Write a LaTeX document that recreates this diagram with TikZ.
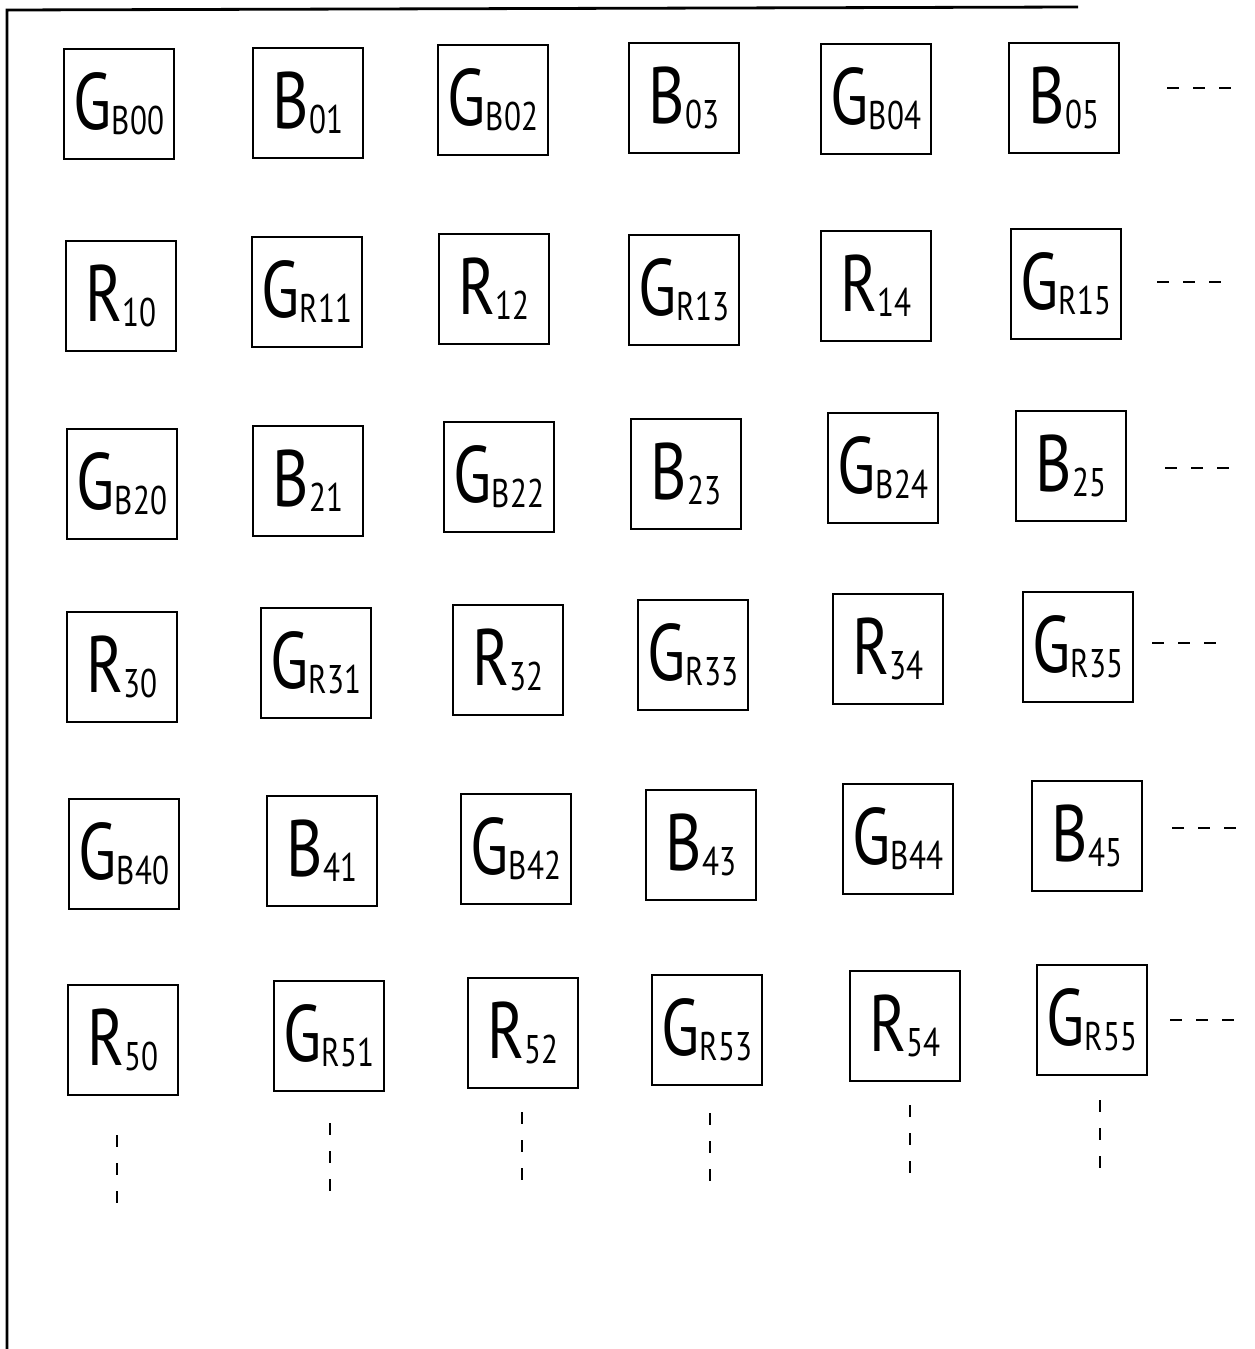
\documentclass[tikz,border=0pt]{standalone}
\usepackage{fontspec}
\setmainfont[FakeStretch=0.78]{PT Sans}
\newcommand{\cellname}[2]{#1\raisebox{-2.5pt}{\fontsize{20}{20}\selectfont #2}}
\tikzset{
  every picture/.style={line width=1.2pt},
  cellbox/.style={
    draw=black,
    minimum width=55pt,
    minimum height=55pt,
    inner sep=1pt,
    font=\fontsize{40}{40}\selectfont
  },
  rowdots/.style={dash pattern=on 6pt off 7pt},
  coldots/.style={dash pattern=on 6pt off 8pt},
  framerule/.style={line width=1.4pt}
}

\begin{document}
\begin{tikzpicture}[x=0.5pt, y=-0.5pt]
  \useasboundingbox (0,0) rectangle (1254,1349);

  % frame
  \coordinate (ftop) at (7,10);
  \coordinate (fright) at (1078,7);
  \coordinate (fbottom) at (7,1349);
  \draw[framerule] (fbottom) -- (ftop) -- (fright);

  % row 0
  \node[cellbox] (gb00) at (119,104) {\cellname{G}{B00}};
  \node[cellbox] (b01) at (308,103) {\cellname{B}{01}};
  \node[cellbox] (gb02) at (493,100) {\cellname{G}{B02}};
  \node[cellbox] (b03) at (684,98) {\cellname{B}{03}};
  \node[cellbox] (gb04) at (876,99) {\cellname{G}{B04}};
  \node[cellbox] (b05) at (1064,98) {\cellname{B}{05}};

  % row 1
  \node[cellbox] (r10) at (121,296) {\cellname{R}{10}};
  \node[cellbox] (gr11) at (307,292) {\cellname{G}{R11}};
  \node[cellbox] (r12) at (494,289) {\cellname{R}{12}};
  \node[cellbox] (gr13) at (684,290) {\cellname{G}{R13}};
  \node[cellbox] (r14) at (876,286) {\cellname{R}{14}};
  \node[cellbox] (gr15) at (1066,284) {\cellname{G}{R15}};

  % row 2
  \node[cellbox] (gb20) at (122,484) {\cellname{G}{B20}};
  \node[cellbox] (b21) at (308,481) {\cellname{B}{21}};
  \node[cellbox] (gb22) at (499,477) {\cellname{G}{B22}};
  \node[cellbox] (b23) at (686,474) {\cellname{B}{23}};
  \node[cellbox] (gb24) at (883,468) {\cellname{G}{B24}};
  \node[cellbox] (b25) at (1071,466) {\cellname{B}{25}};

  % row 3
  \node[cellbox] (r30) at (122,667) {\cellname{R}{30}};
  \node[cellbox] (gr31) at (316,663) {\cellname{G}{R31}};
  \node[cellbox] (r32) at (508,660) {\cellname{R}{32}};
  \node[cellbox] (gr33) at (693,655) {\cellname{G}{R33}};
  \node[cellbox] (r34) at (888,649) {\cellname{R}{34}};
  \node[cellbox] (gr35) at (1078,647) {\cellname{G}{R35}};

  % row 4
  \node[cellbox] (gb40) at (124,854) {\cellname{G}{B40}};
  \node[cellbox] (b41) at (322,851) {\cellname{B}{41}};
  \node[cellbox] (gb42) at (516,849) {\cellname{G}{B42}};
  \node[cellbox] (b43) at (701,845) {\cellname{B}{43}};
  \node[cellbox] (gb44) at (898,839) {\cellname{G}{B44}};
  \node[cellbox] (b45) at (1087,836) {\cellname{B}{45}};

  % row 5
  \node[cellbox] (r50) at (123,1040) {\cellname{R}{50}};
  \node[cellbox] (gr51) at (329,1036) {\cellname{G}{R51}};
  \node[cellbox] (r52) at (523,1033) {\cellname{R}{52}};
  \node[cellbox] (gr53) at (707,1030) {\cellname{G}{R53}};
  \node[cellbox] (r54) at (905,1026) {\cellname{R}{54}};
  \node[cellbox] (gr55) at (1092,1020) {\cellname{G}{R55}};

  % rows go on to the right
  \coordinate (h0) at (1167,88);
  \coordinate (h1) at (1157,282);
  \coordinate (h2) at (1165,468);
  \coordinate (h3) at (1152,643);
  \coordinate (h4) at (1172,828);
  \coordinate (h5) at (1170,1020);
  \draw[rowdots] (h0) -- ++(64,0);
  \draw[rowdots] (h1) -- ++(64,0);
  \draw[rowdots] (h2) -- ++(64,0);
  \draw[rowdots] (h3) -- ++(64,0);
  \draw[rowdots] (h4) -- ++(64,0);
  \draw[rowdots] (h5) -- ++(64,0);

  % columns go on downwards
  \coordinate (v0) at (117,1135);
  \coordinate (v1) at (330,1123);
  \coordinate (v2) at (522,1112);
  \coordinate (v3) at (710,1113);
  \coordinate (v4) at (910,1105);
  \coordinate (v5) at (1100,1100);
  \draw[coldots] (v0) -- ++(0,72);
  \draw[coldots] (v1) -- ++(0,72);
  \draw[coldots] (v2) -- ++(0,72);
  \draw[coldots] (v3) -- ++(0,72);
  \draw[coldots] (v4) -- ++(0,72);
  \draw[coldots] (v5) -- ++(0,72);
\end{tikzpicture}
\end{document}
